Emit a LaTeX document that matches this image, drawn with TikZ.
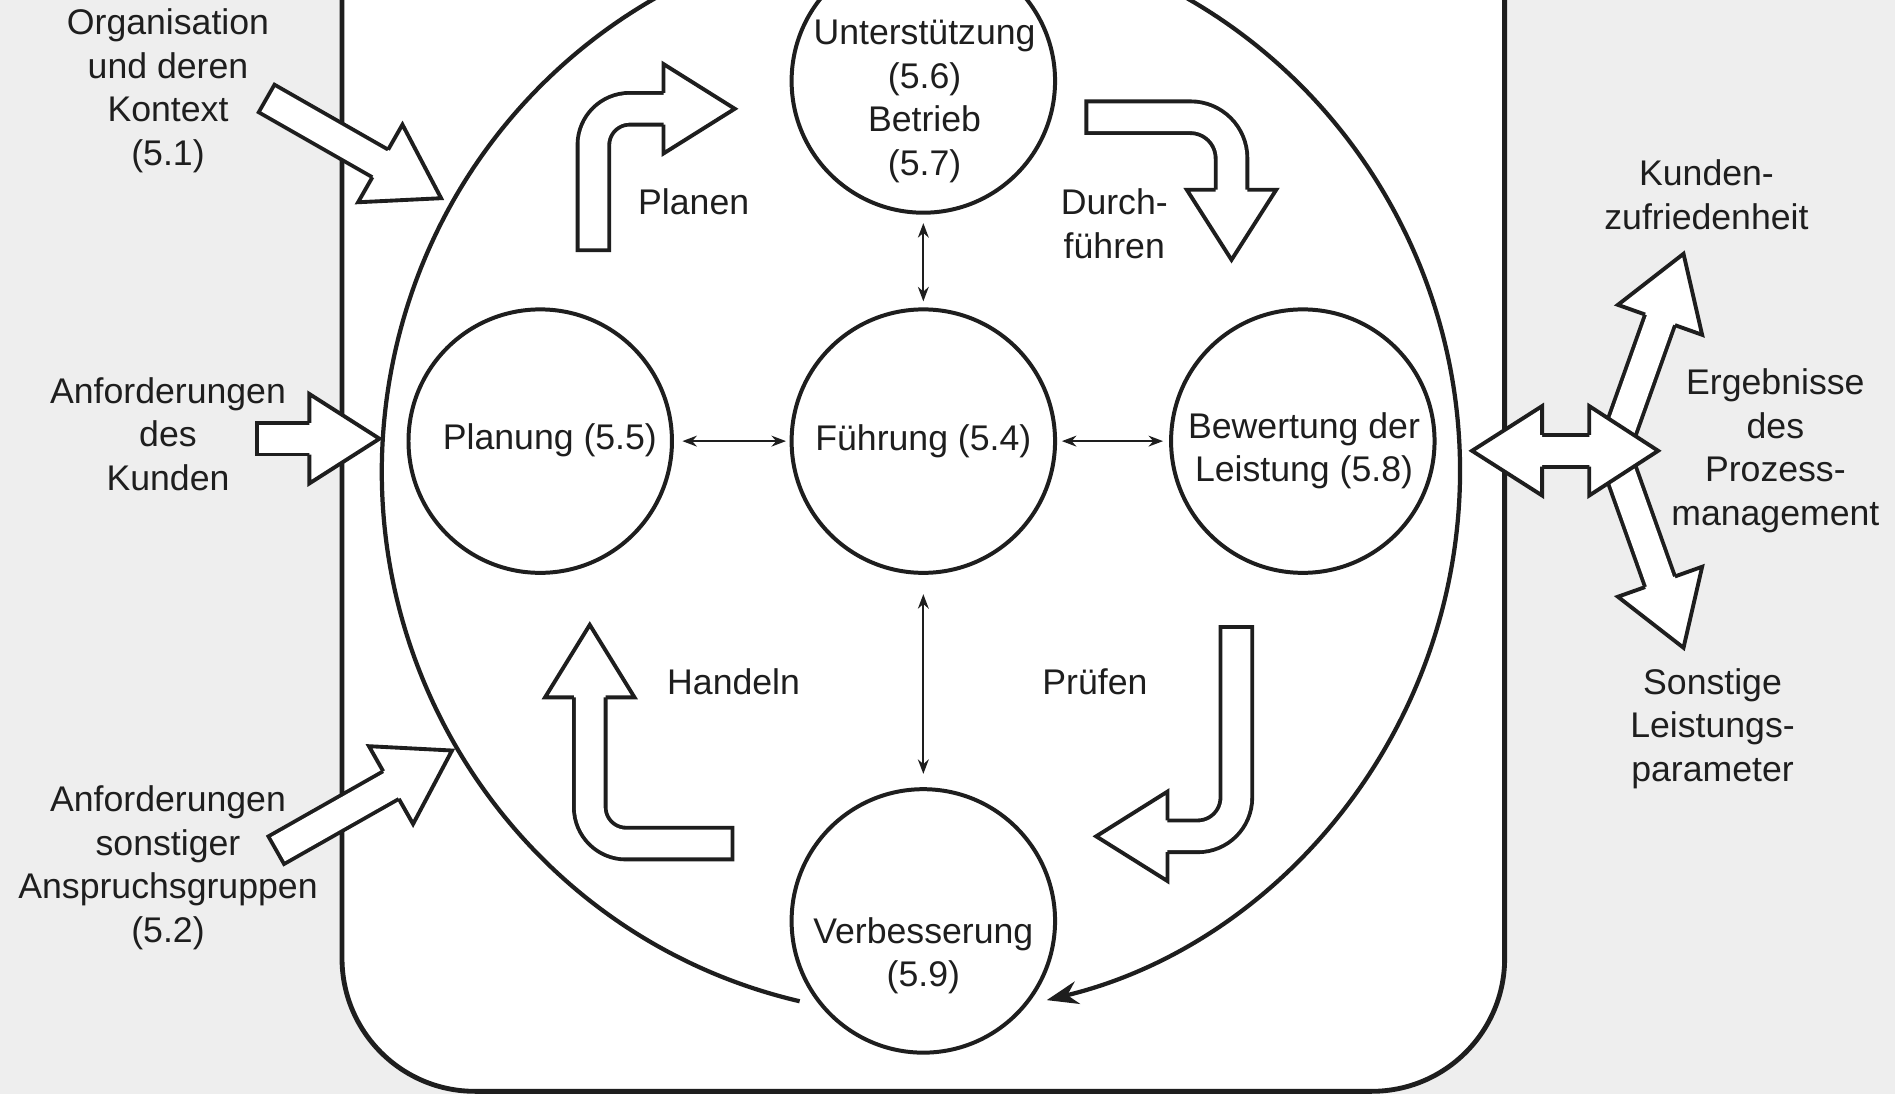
\documentclass[tikz,border=0pt]{standalone}
\usepackage{fontspec}
\setmainfont{Liberation Sans}
\usetikzlibrary{arrows.meta,calc}

\definecolor{ink}{HTML}{1E1E1E}
\definecolor{bggray}{HTML}{EEEEEE}

\newcommand{\arrowhead}[2]{% base, tip
  \filldraw[blockhead] ($(#1)!13.1pt!90:(#2)$) -- ($(#1)!37pt!90:(#2)$) -- (#2)
    -- ($(#1)!37pt!-90:(#2)$) -- ($(#1)!13.1pt!-90:(#2)$);}
\newcommand{\straightarrow}[2]{% tail, tip
  \coordinate (hb) at ($(#2)!58pt!(#1)$);
  \draw[blockshaft] (#1) -- (hb);
  \arrowhead{hb}{#2}}

\begin{document}
\begin{tikzpicture}[x=1pt, y=-1pt, font=\fontsize{29.5}{36}\selectfont, text=ink,
    phase/.style={circle, draw=ink, line width=3.3pt, minimum size=218pt, inner sep=0pt, align=center},
    lbl/.style={align=center, inner sep=0pt},
    link/.style={{Stealth[length=12pt,width=9pt]}-{Stealth[length=12pt,width=9pt]}, draw=ink, line width=1.6pt},
    blockshaft/.style={draw=ink, line width=3.2pt, double=white, double distance=23pt, line cap=rect},
    blockhead/.style={draw=ink, fill=white, line width=3.2pt, line join=miter},
    frame/.style={draw=ink, fill=white, line width=4pt, rounded corners=110pt},
    cyclearrow/.style={draw=ink, line width=3.5pt, -{Stealth[length=26pt,width=19pt]}}]
  \useasboundingbox (0,0) rectangle (1568,905);
  \fill[bggray] (0,0) rectangle (1568,905);
  \clip (0,0) rectangle (1568,905);
  \draw[frame] (283,-200) rectangle (1245,903);

  % PDCA cycle
  \coordinate (ctr) at (762,390);
  \draw[cyclearrow] ($(ctr)+(103:446 and 450)$) arc[start angle=103, end angle=436.5, x radius=446, y radius=450];

  \node[phase] (unter) at (764,67) {};
  \node[phase] (plan) at (447,365) {};
  \node[phase] (fuehr) at (764,365) {Führung (5.4)};
  \node[phase] (bew) at (1078,365) {};
  \node[phase] (verb) at (764,762) {};
  \node[lbl] (unterTxt) at (765,84) {Unterstützung\\(5.6)\\Betrieb\\(5.7)};
  \node[lbl] (planTxt) at (455,364) {Planung (5.5)};
  \node[lbl] (bewTxt) at (1079,373) {Bewertung der\\Leistung (5.8)};
  \node[lbl] (verbTxt) at (764,791) {Verbesserung\\(5.9)};

  \draw[link, shorten <=7pt, shorten >=3pt] (plan) -- (fuehr);
  \draw[link, shorten <=4pt, shorten >=5pt] (fuehr) -- (bew);
  \draw[link, shorten <=7pt, shorten >=5pt] (unter) -- (fuehr);
  \draw[link, shorten <=16pt, shorten >=11pt] (fuehr) -- (verb);

  % Planen, Durchfuehren, Pruefen, Handeln
  \coordinate (plT) at (491,194); \coordinate (plB) at (549,90); \coordinate (plP) at (608,90);
  \draw[blockshaft, rounded corners=30pt] (plT) |- (plB);
  \arrowhead{plB}{plP}
  \coordinate (dfT) at (912,97); \coordinate (dfB) at (1019,157); \coordinate (dfP) at (1019,215);
  \draw[blockshaft, rounded corners=34pt] (dfT) -| (dfB);
  \arrowhead{dfB}{dfP}
  \coordinate (prT) at (1023,532); \coordinate (prB) at (966,692); \coordinate (prP) at (907,692);
  \draw[blockshaft, rounded corners=32pt] (prT) |- (prB);
  \arrowhead{prB}{prP}
  \coordinate (haT) at (593,698); \coordinate (haB) at (488,577); \coordinate (haP) at (488,517);
  \draw[blockshaft, rounded corners=30pt] (haT) -| (haB);
  \arrowhead{haB}{haP}

  \node[lbl] (planen) at (574,167) {Planen};
  \node[lbl] (durch) at (922,185) {Durch-\\führen};
  \node[lbl] (pruef) at (906,564) {Prüfen};
  \node[lbl] (handeln) at (607,564) {Handeln};

  % inputs
  \coordinate (orgT) at (232,88); \coordinate (orgP) at (365,164);
  \coordinate (kdT) at (226,363); \coordinate (kdP) at (314,363);
  \coordinate (soT) at (240,697); \coordinate (soP) at (374,621);
  \straightarrow{orgT}{orgP}
  \straightarrow{kdT}{kdP}
  \straightarrow{soT}{soP}
  \node[lbl] (org) at (139,75) {Organisation\\und deren\\Kontext\\(5.1)};
  \node[lbl] (kunde) at (139,359) {Anforderungen\\des\\Kunden};
  \node[lbl] (sonst) at (139,718) {Anforderungen\\sonstiger\\Anspruchsgruppen\\(5.2)};

  % outputs
  \coordinate (erO) at (1335,373);
  \coordinate (erU) at (1393,210); \coordinate (erD) at (1393,536);
  \coordinate (erL) at (1218,373); \coordinate (erLB) at (1276,373);
  \coordinate (erRB) at (1315,373); \coordinate (erR) at (1372,373);
  \straightarrow{erO}{erU}
  \straightarrow{erO}{erD}
  \draw[blockshaft] (erLB) -- (erRB);
  \arrowhead{erLB}{erL}
  \arrowhead{erRB}{erR}
  \node[lbl] (zufr) at (1412,161) {Kunden-\\zufriedenheit};
  \node[lbl] (ergeb) at (1469,373) {Ergebnisse\\des\\Prozess-\\management};
  \node[lbl] (param) at (1417,603) {Sonstige\\Leistungs-\\parameter};
\end{tikzpicture}
\end{document}
